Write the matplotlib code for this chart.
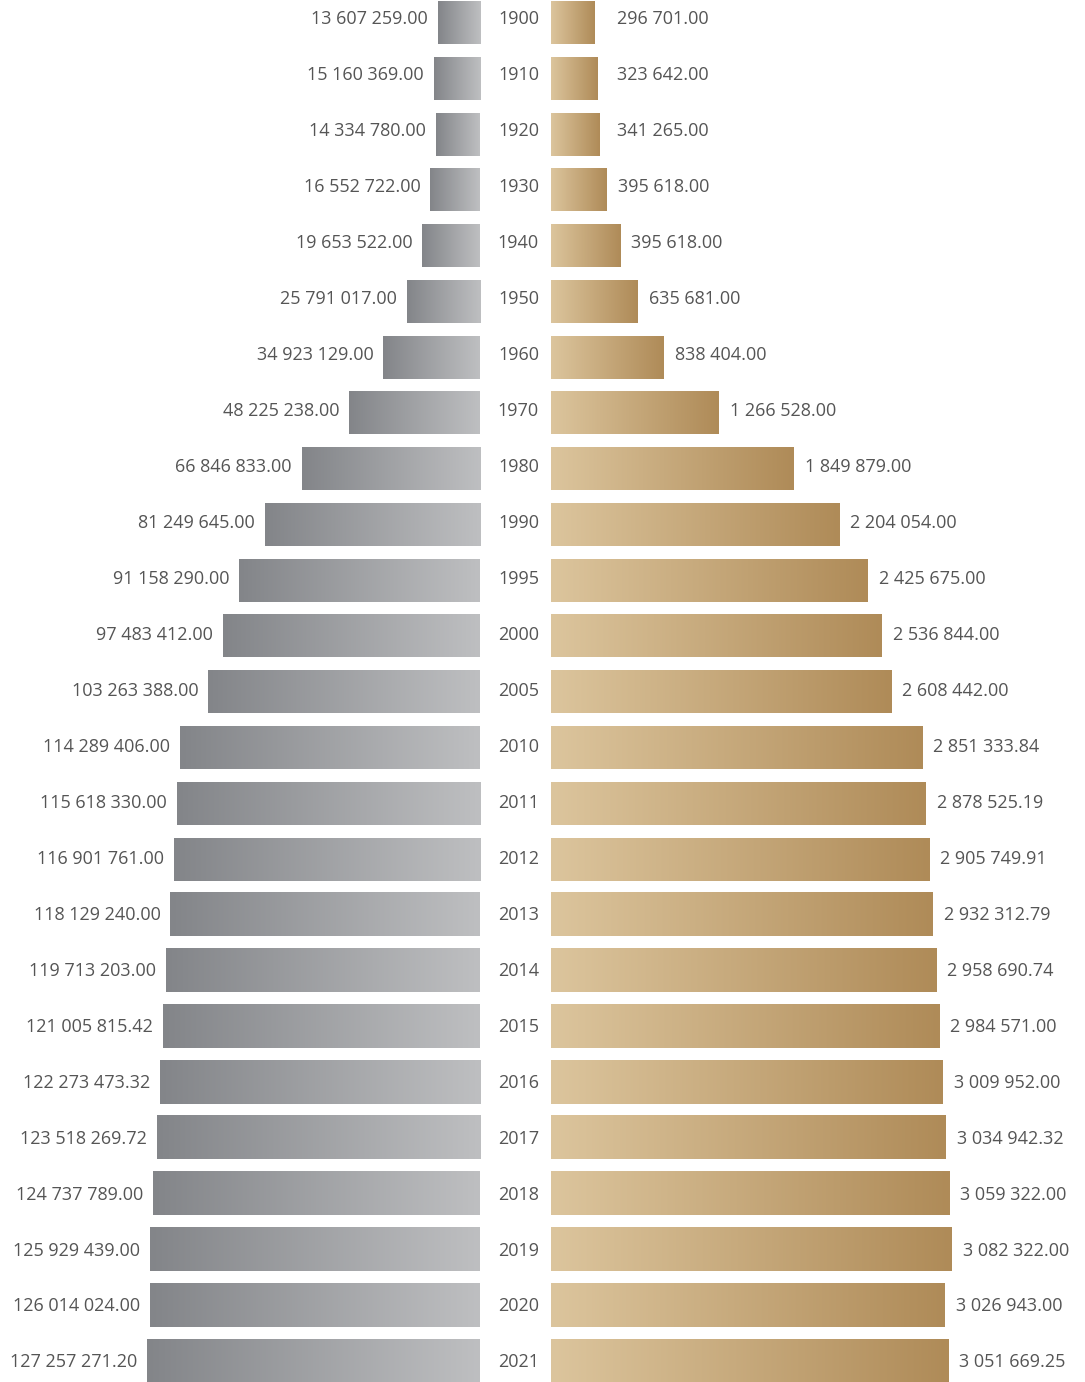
import numpy as np
import matplotlib
matplotlib.use("Agg")
import matplotlib.pyplot as plt
from matplotlib.colors import LinearSegmentedColormap
from matplotlib.transforms import blended_transform_factory

# données
years = ["1900", "1910", "1920", "1930", "1940", "1950", "1960", "1970", "1980", "1990",
         "1995", "2000", "2005", "2010", "2011", "2012", "2013", "2014", "2015", "2016",
         "2017", "2018", "2019", "2020", "2021"]

left_values = [13607259, 15160369, 14334780, 16552722, 19653522, 25791017, 34923129,
               48225238, 66846833, 81249645, 91158290, 97483412, 103263388, 114289406,
               115618330, 116901761, 118129240, 119713203, 121005815.42, 122273473.32,
               123518269.72, 124737789, 125929439, 126014024, 127257271.20]

# barre 1940 dessinée plus longue que son libellé dans l'original
right_values = [296701, 323642, 341265, 395618, 499000, 635681, 838404, 1266528,
                1849879, 2204054, 2425675, 2536844, 2608442, 2851333.84, 2878525.19,
                2905749.91, 2932312.79, 2958690.74, 2984571, 3009952, 3034942.32,
                3059322, 3082322, 3026943, 3051669.25]

left_labels = ["13 607 259.00", "15 160 369.00", "14 334 780.00", "16 552 722.00",
               "19 653 522.00", "25 791 017.00", "34 923 129.00", "48 225 238.00",
               "66 846 833.00", "81 249 645.00", "91 158 290.00", "97 483 412.00",
               "103 263 388.00", "114 289 406.00", "115 618 330.00", "116 901 761.00",
               "118 129 240.00", "119 713 203.00", "121 005 815.42", "122 273 473.32",
               "123 518 269.72", "124 737 789.00", "125 929 439.00", "126 014 024.00",
               "127 257 271.20"]

right_labels = ["296 701.00", "323 642.00", "341 265.00", "395 618.00", "395 618.00",
                "635 681.00", "838 404.00", "1 266 528.00", "1 849 879.00",
                "2 204 054.00", "2 425 675.00", "2 536 844.00", "2 608 442.00",
                "2 851 333.84", "2 878 525.19", "2 905 749.91", "2 932 312.79",
                "2 958 690.74", "2 984 571.00", "3 009 952.00", "3 034 942.32",
                "3 059 322.00", "3 082 322.00", "3 026 943.00", "3 051 669.25"]

W, H = 1085, 1382
fig = plt.figure(figsize=(W / 100, H / 100), dpi=100)
plt.rcParams['font.family'] = ['Open Sans', 'DejaVu Sans']

gray = LinearSegmentedColormap.from_list("g", ["#838589", "#bebfc1"])
gold = LinearSegmentedColormap.from_list("o", ["#dcc59d", "#af8b58"])
txt_col = "#555555"
fs = 13

n = len(years)
rows = np.arange(n)

# axes en pixels
ax_l = fig.add_axes([0, 0, 480 / W, 1])
ax_r = fig.add_axes([551 / W, 0, (W - 551) / W, 1])
ax_t = fig.add_axes([0, 0, 1, 1])
for ax in (ax_l, ax_r, ax_t):
    ax.axis("off")
    ax.patch.set_alpha(0)

# lignes des barres : centre 1ère à 22.5 px, dernière à 1361 px
b0, b1 = 22.5, 1361
step = (b1 - b0) / (n - 1)
ylim_bar = ((n - 1) + (H - b1) / step, -b0 / step)
bh = 43 / step

# échelles (px par unité, plus un petit décalage)
l_scale, l_off = 2.56e-6, 7.2
l_hi = (480 - l_off) / l_scale
l_lo = -l_off / l_scale
r_scale, r_off = 128.5e-6, 4.9
r_lo = -r_off / r_scale
r_hi = (W - 551 - r_off) / r_scale

grad = np.linspace(0, 1, 256).reshape(1, -1)
for i in rows:
    y0, y1 = i - bh / 2, i + bh / 2
    # gauche : sombre à l'extérieur, clair au centre
    ax_l.imshow(grad, cmap=gray, aspect="auto",
                extent=(left_values[i], l_lo, y1, y0), interpolation="bicubic")
    ax_r.imshow(grad, cmap=gold, aspect="auto",
                extent=(r_lo, right_values[i], y1, y0), interpolation="bicubic")

ax_l.set_xlim(l_hi, l_lo)
ax_l.set_ylim(*ylim_bar)
ax_r.set_xlim(r_lo, r_hi)
ax_r.set_ylim(*ylim_bar)

# lignes de texte : 18 px -> 1361 px
t0, t1 = 18, 1361
tstep = (t1 - t0) / (n - 1)
ax_t.set_xlim(0, 1)
ax_t.set_ylim((n - 1) + (H - t1) / tstep, -t0 / tstep)

tl = blended_transform_factory(ax_l.transData, ax_t.transData)
tr = blended_transform_factory(ax_r.transData, ax_t.transData)
r_min = 0.39e6
dy = -0.714 * fs * 100 / 72 / 2   # centrer les chiffres

for i in rows:
    ax_l.annotate(left_labels[i], xy=(left_values[i], i), xycoords=tl,
                  xytext=(-10, dy), textcoords="offset pixels",
                  ha="right", va="baseline", fontsize=fs, color=txt_col)
    ax_r.annotate(right_labels[i], xy=(max(right_values[i], r_min), i), xycoords=tr,
                  xytext=(11, dy), textcoords="offset pixels",
                  ha="left", va="baseline", fontsize=fs, color=txt_col)
    ax_r.annotate(years[i], xy=(r_lo, i), xycoords=tr,
                  xytext=(-12, dy), textcoords="offset pixels",
                  ha="right", va="baseline", fontsize=fs, color=txt_col)

fig.savefig("out.png", dpi=100)
